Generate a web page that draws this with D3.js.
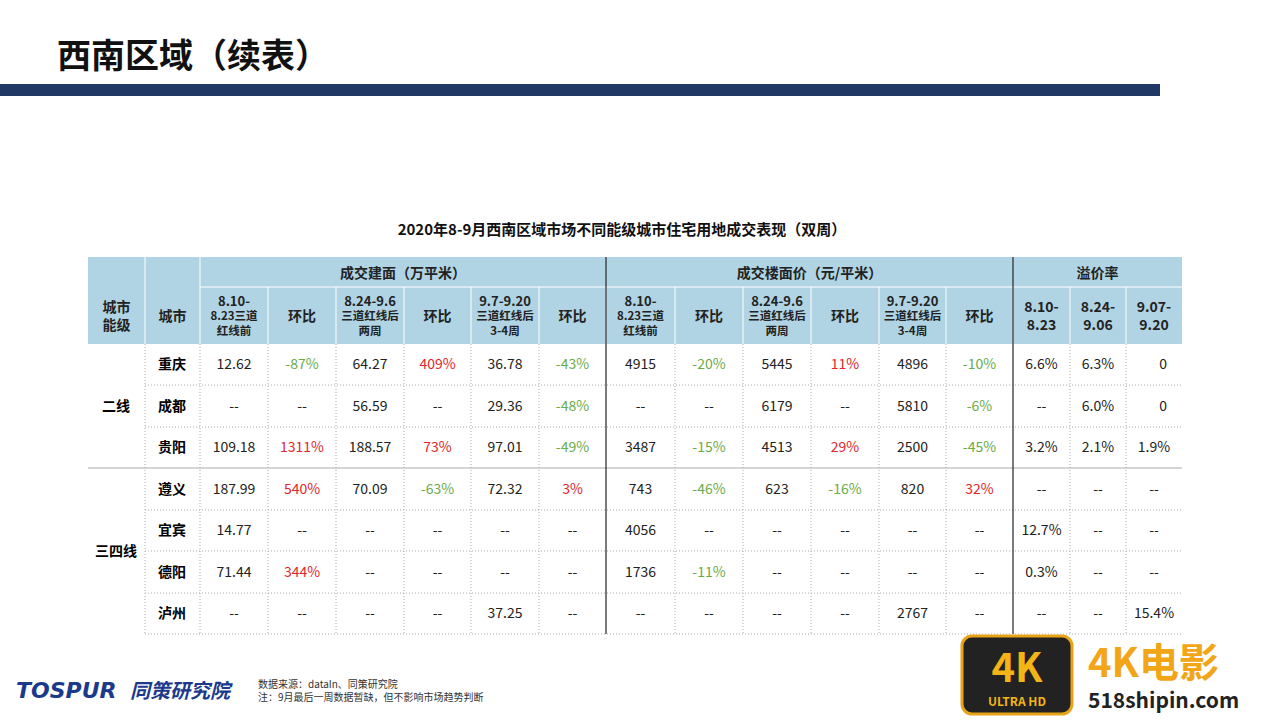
<!DOCTYPE html>
<html><head><meta charset="utf-8">
<script src="https://cdn.jsdelivr.net/npm/d3@7"></script>
<style>body{margin:0;background:#fff}svg{display:block;font-family:"Noto Sans CJK SC","Noto Sans",sans-serif}</style>
</head><body><svg id="c" width="1280" height="720"></svg>
<script>
const title = "西南区域（续表）";
const tableTitle = "2020年8-9月西南区域市场不同能级城市住宅用地成交表现（双周）";
const groupHeaders = ["成交建面（万平米）", "成交楼面价（元/平米）", "溢价率"];
const subHeaders = ["城市\n能级", "城市", "8.10-\n8.23三道\n红线前", "环比", "8.24-9.6\n三道红线后\n两周", "环比", "9.7-9.20\n三道红线后\n3-4周", "环比",
  "8.10-\n8.23三道\n红线前", "环比", "8.24-9.6\n三道红线后\n两周", "环比", "9.7-9.20\n三道红线后\n3-4周", "环比", "8.10-\n8.23", "8.24-\n9.06", "9.07-\n9.20"];
const tiers = [{name:"二线", rows:3}, {name:"三四线", rows:4}];
const cities = ["重庆","成都","贵阳","遵义","宜宾","德阳","泸州"];
const rows = [
  ["12.62","-87%","64.27","409%","36.78","-43%","4915","-20%","5445","11%","4896","-10%","6.6%","6.3%","0"],
  ["--","--","56.59","--","29.36","-48%","--","--","6179","--","5810","-6%","--","6.0%","0"],
  ["109.18","1311%","188.57","73%","97.01","-49%","3487","-15%","4513","29%","2500","-45%","3.2%","2.1%","1.9%"],
  ["187.99","540%","70.09","-63%","72.32","3%","743","-46%","623","-16%","820","32%","--","--","--"],
  ["14.77","--","--","--","--","--","4056","--","--","--","--","--","12.7%","--","--"],
  ["71.44","344%","--","--","--","--","1736","-11%","--","--","--","--","0.3%","--","--"],
  ["--","--","--","--","37.25","--","--","--","--","--","2767","--","--","--","15.4%"]
];
const colEdges = [88,145,200,268,336,404,471,539,606,675,743,811,879,946,1013,1070,1126,1182];
const rowEdges = [344,385,427,468,510,551,593,634];

const svg = d3.select("#c");
svg.append("text").attr("x",57).attr("y",68).attr("font-size",34).attr("font-weight","bold").attr("fill","#111").text(title);
svg.append("rect").attr("x",0).attr("y",84).attr("width",1160).attr("height",12).attr("fill","#1f3864");
svg.append("text").attr("x",622).attr("y",235).attr("text-anchor","middle").attr("font-size",15).attr("font-weight","bold").attr("fill","#111").text(tableTitle);

const x = i => colEdges[i];
svg.append("rect").attr("x",88).attr("y",257).attr("width",1094).attr("height",87).attr("fill","#b0d4e3");
const hl = svg.append("g").attr("stroke","#fff").attr("stroke-width",1);
[145,200].forEach(v=>hl.append("line").attr("x1",v).attr("x2",v).attr("y1",257).attr("y2",344));
hl.append("line").attr("x1",200).attr("x2",1182).attr("y1",287).attr("y2",287);
colEdges.slice(3,-1).forEach(v=>hl.append("line").attr("x1",v).attr("x2",v).attr("y1",287).attr("y2",344));
const gSpans = [[2,8],[8,14],[14,17]];
groupHeaders.forEach((t,i)=>svg.append("text").attr("x",(x(gSpans[i][0])+x(gSpans[i][1]))/2).attr("y",278)
  .attr("text-anchor","middle").attr("font-size",14).attr("font-weight","bold").attr("fill","#222").text(t));
subHeaders.forEach((t,i)=>{
  const lines=t.split("\n"); const cx=(x(i)+x(i+1))/2;
  const three = lines.length===3;
  const lh = three?15:18;
  const y0 = 316 - (lines.length-1)*lh/2;
  lines.forEach((l,j)=>{
    const fs = three ? (j===0?13:11.5) : 14;
    svg.append("text").attr("x",cx).attr("y",y0+j*lh).attr("dy","0.35em").attr("text-anchor","middle")
      .attr("font-size", fs).attr("font-weight","bold").attr("fill","#222").text(l);
  });
});
const gr = svg.append("g");
rowEdges.slice(1).forEach((v,i)=>gr.append("line").attr("x1",i===2?88:145).attr("x2",1182).attr("y1",v).attr("y2",v)
  .attr("stroke","#aaa").attr("stroke-dasharray",i===2?null:"1,2"));
colEdges.slice(1,-1).forEach(v=>gr.append("line").attr("x1",v).attr("x2",v).attr("y1",344).attr("y2",634)
  .attr("stroke",(v===606||v===1013)?"#333":"#aaa").attr("stroke-width",(v===606||v===1013)?1.3:1).attr("stroke-dasharray",(v===606||v===1013)?null:"1,2"));
[606,1013].forEach(v=>gr.append("line").attr("x1",v).attr("x2",v).attr("y1",257).attr("y2",344).attr("stroke","#333").attr("stroke-width",1.3));
let r0=0;
tiers.forEach(t=>{
  const yc=(rowEdges[r0]+rowEdges[r0+t.rows])/2;
  svg.append("text").attr("x",116).attr("y",yc).attr("dy","0.35em").attr("text-anchor","middle").attr("font-size",14).attr("font-weight","bold").text(t.name);
  r0+=t.rows;
});
rows.forEach((row,ri)=>{
  const yc=(rowEdges[ri]+rowEdges[ri+1])/2;
  svg.append("text").attr("x",172).attr("y",yc).attr("dy","0.35em").attr("text-anchor","middle").attr("font-size",14).attr("font-weight","bold").text(cities[ri]);
  row.forEach((v,ci)=>{
    const col=ci+2; const isChg=[3,5,7,9,11,13].includes(col);
    let fill="#222";
    if(isChg && v!=="--") fill = v.startsWith("-")?"#6aab4a":"#e0262b";
    const anchor = col===16 && v==="0" ? "end":"middle";
    svg.append("text").attr("x",anchor==="end"?x(col+1)-15:(x(col)+x(col+1))/2).attr("y",yc).attr("dy","0.35em")
      .attr("text-anchor",anchor).attr("font-size",14).attr("fill",fill).text(v);
  });
});
svg.append("text").attr("x",16).attr("y",698).attr("font-size",22).attr("font-weight","bold").attr("font-style","italic").attr("fill","#1b3a8c").attr("font-family","DejaVu Sans").text("TOSPUR");
svg.append("text").attr("x",130).attr("y",698).attr("font-size",20).attr("font-weight","bold").attr("font-style","italic").attr("fill","#1b3a8c").text("同策研究院");
svg.append("text").attr("x",258).attr("y",688).attr("font-size",10).attr("fill","#333").text("数据来源：dataIn、同策研究院");
svg.append("text").attr("x",258).attr("y",701).attr("font-size",10).attr("fill","#333").text("注：9月最后一周数据暂缺，但不影响市场趋势判断");
svg.append("rect").attr("x",962).attr("y",636).attr("width",110).attr("height",78).attr("rx",10).attr("fill","#222").attr("stroke","#e8a317").attr("stroke-width",3);
svg.append("text").attr("x",1017).attr("y",682).attr("text-anchor","middle").attr("font-size",40).attr("font-weight","bold").attr("fill","#f2b416").text("4K");
svg.append("text").attr("x",1017).attr("y",706).attr("text-anchor","middle").attr("font-size",12).attr("font-weight","bold").attr("fill","#f2b416").text("ULTRA HD");
svg.append("text").attr("x",1088).attr("y",677).attr("font-size",40).attr("font-weight","bold").attr("fill","#f2a516").text("4K电影");
svg.append("text").attr("x",1088).attr("y",708).attr("font-size",21).attr("font-weight","bold").attr("fill","#222").text("518shipin.com");
</script></body></html>
